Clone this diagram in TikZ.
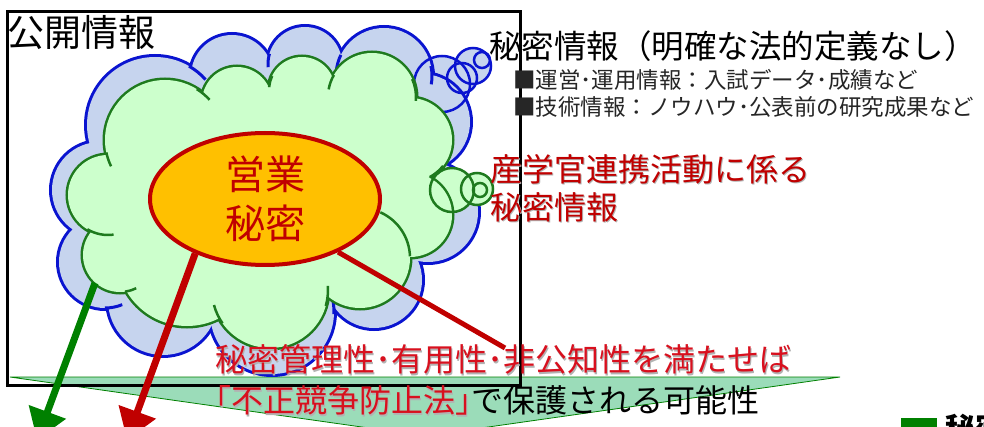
\documentclass[tikz,border=0pt]{standalone}
\usepackage{fontspec}
\setmainfont{Noto Sans CJK JP}
\usetikzlibrary{arrows.meta, shapes.geometric, positioning}
\definecolor{cloudblue}{HTML}{C6D4EE}
\definecolor{edgeblue}{HTML}{0A14D0}
\definecolor{cloudgreen}{HTML}{CCFFCC}
\definecolor{edgegreen}{HTML}{1E7A1E}
\definecolor{secretorange}{HTML}{FFC000}
\definecolor{darkred}{HTML}{C00000}
\definecolor{lawred}{HTML}{D8101E}
\definecolor{mint}{HTML}{9BDCB9}
\definecolor{arrowgreen}{HTML}{008000}

% red captions get a soft drop shadow
\newcommand{\shadowed}[1]{\rlap{\kern1.3pt\raisebox{-1.3pt}{\textcolor{black!30}{#1}}}#1}

% puffs of the two clouds: x/y/radius
\def\bluepuffs{100/190/48, 155/125/68, 232/76/41, 305/64/37, 384/76/48, 422/122/48,
  428/212/50, 374/280/48, 272/312/62, 163/300/55, 105/262/46}
\def\greenpuffs{108/195/40, 165/140/60, 237/102/35, 302/90/33, 372/97/44, 410/140/42,
  410/215/42, 360/258/50, 270/290/58, 187/256/70, 120/255/37}
% inner hooks: x/y/radius/start/end
\def\bluehooks{305/64/37/196/175, 384/76/48/206/188, 384/76/48/-12/10,
  105/262/46/90/68, 155/125/68/-60/-42, 272/312/62/2/-14}
\def\greenhooks{165/140/60/-58/-42, 165/140/60/168/154, 302/90/33/205/185,
  372/97/44/210/190, 372/97/44/-24/5, 410/140/42/38/62, 360/258/50/-2/-66,
  270/290/58/16/-4, 270/290/58/145/165, 120/255/37/82/64, 108/195/40/121/82}
% thought bubbles: x/y/radius
\def\bluebubbles{442/84/28, 462/78/15, 473/66/18, 482/60/8}
\def\greenbubbles{452/190/22, 477/189/16, 480/190/7}

\begin{document}
\begin{tikzpicture}[x=1pt, y=-1pt,
    lbl/.style={inner sep=0pt, anchor=west, align=left},
    secret/.style={ellipse, draw=darkred, line width=4pt, fill=secretorange,
                   minimum width=230pt, minimum height=132pt, inner sep=0pt,
                   align=center, text=darkred, font=\fontsize{40}{49}\selectfont},
    fat/.style={line width=7pt, draw=#1, -{Triangle[width=38pt,length=30pt]}},
    thin/.style={line width=5pt, draw=#1}
]
\useasboundingbox (0,0) rectangle (984,427);
\clip (0,0) rectangle (984,427);

% law funnel and frame
\fill[mint, draw=arrowgreen, line width=0.8pt] (10,377) -- (840,377) -- (425,436) -- cycle;
\draw[line width=3pt] (7,12) rectangle (520,385);

% blue cloud
\foreach \x/\y/\r in \bluebubbles {\fill[cloudblue] (\x,\y) circle[radius=\r];}
\foreach \x/\y/\r in \bluepuffs {\draw[edgeblue, line width=6pt] (\x,\y) circle[radius=\r];}
\fill[cloudblue] (265,195) ellipse[x radius=165, y radius=115];
\foreach \x/\y/\r in \bluepuffs {\fill[cloudblue] (\x,\y) circle[radius=\r];}
\foreach \x/\y/\r/\a/\b in \bluehooks
  {\draw[edgeblue, line width=3pt] (\x,\y) ++(\a:\r) arc[start angle=\a, end angle=\b, radius=\r];}
\foreach \x/\y/\r in \bluebubbles {\draw[edgeblue, line width=2.5pt] (\x,\y) circle[radius=\r];}

% green cloud
\foreach \x/\y/\r in \greenbubbles {\fill[cloudgreen] (\x,\y) circle[radius=\r];}
\foreach \x/\y/\r in \greenpuffs {\draw[edgegreen, line width=5pt] (\x,\y) circle[radius=\r];}
\fill[cloudgreen] (265,192) ellipse[x radius=145, y radius=95];
\foreach \x/\y/\r in \greenpuffs {\fill[cloudgreen] (\x,\y) circle[radius=\r];}
\foreach \x/\y/\r/\a/\b in \greenhooks
  {\draw[edgegreen, line width=2.5pt] (\x,\y) ++(\a:\r) arc[start angle=\a, end angle=\b, radius=\r];}
\foreach \x/\y/\r in \greenbubbles {\draw[edgegreen, line width=2.5pt] (\x,\y) circle[radius=\r];}

% Nodes
\node[secret] (ts) at (265,199) {営業\\秘密};
\node[lbl, font=\fontsize{37}{37}\selectfont] (pub) at (7,33) {公開情報};
\node[lbl, font=\fontsize{32.5}{33}\selectfont] (secinfo) at (489,46) {秘密情報（明確な法的定義なし）};
\node[lbl, font=\fontsize{22.5}{27}\selectfont, text=black!85] (items) at (513,93)
  {■運営･運用情報：入試データ･成績など\\■技術情報：ノウハウ･公表前の研究成果など};
\node[lbl, font=\fontsize{32}{38}\selectfont, text=darkred] (sangaku) at (490,189)
  {\shadowed{産学官連携活動に係る}\\\shadowed{秘密情報}};
\node[lbl, font=\fontsize{32}{41}\selectfont, text=lawred] (cond) at (215,381)
  {\shadowed{秘密管理性･有用性･非公知性を満たせば}\\\shadowed{｢不正競争防止法｣}\textcolor{black}{で保護される可能性}};
\node[fill=arrowgreen, minimum width=36pt, minimum height=16pt, inner sep=0pt,
      anchor=north west] (key) at (901,418) {};
\node[lbl, font=\bfseries\fontsize{30}{30}\selectfont] (keytext) at (945,428) {秘密};

\coordinate (gsrc) at (95,283);
\coordinate (gtip) at (37,440);
\coordinate (rtip) at (127,440);
\coordinate (lend) at (505,348);

% Arrows
\draw[thin=darkred] (ts.-36) -- (lend);
\draw[fat=arrowgreen] (gsrc) -- (gtip);
\draw[fat=darkred] (ts.-142) -- (rtip);
\end{tikzpicture}
\end{document}
